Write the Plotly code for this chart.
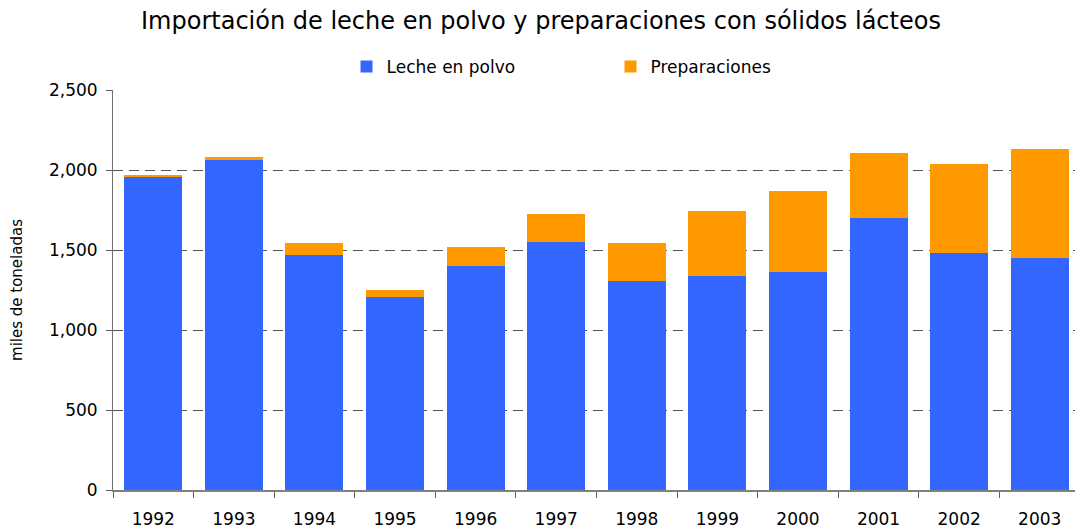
import plotly.graph_objects as go

years = ["1992", "1993", "1994", "1995", "1996", "1997", "1998", "1999", "2000", "2001", "2002", "2003"]
leche_en_polvo = [1960, 2064, 1467, 1206, 1399, 1550, 1307, 1338, 1363, 1703, 1479, 1448]
preparaciones = [6, 19, 75, 43, 118, 174, 237, 405, 504, 401, 556, 681]

FONT = "DejaVu Sans"

fig = go.Figure()
fig.add_trace(go.Bar(x=years, y=leche_en_polvo, name="Leche en polvo",
                     marker=dict(color="#3366FF", line=dict(width=0))))
fig.add_trace(go.Bar(x=years, y=preparaciones, name="Preparaciones",
                     marker=dict(color="#FF9900", line=dict(width=0))))

# page body has an 8px default margin, so the figure is sized to fit inside it
fig.update_layout(
    barmode="stack",
    bargap=0.28,
    width=1075, height=521,
    margin=dict(l=105, r=3, t=82, b=39, autoexpand=False),
    paper_bgcolor="white", plot_bgcolor="white",
    font=dict(family=FONT, size=17, color="black"),
    title=dict(text="Importación de leche en polvo y preparaciones con sólidos lácteos",
               x=0.4958, xanchor="center", y=0.975, yanchor="middle",
               font=dict(family=FONT, size=24, color="black")),
    legend=dict(orientation="h", x=0.2415, xanchor="left", y=1.0575, yanchor="middle",
                font=dict(family=FONT, size=17), entrywidth=219, entrywidthmode="pixels",
                itemwidth=30, traceorder="normal"),
    showlegend=True,
)
fig.update_xaxes(
    type="category", showline=True, linecolor="#808080", linewidth=2,
    ticks="outside", tickson="boundaries", ticklen=6, tickcolor="#606060", tickwidth=1,
    showgrid=False, tickfont=dict(family=FONT, size=17), ticklabelstandoff=13,
    automargin=False,
)
fig.update_yaxes(
    range=[0, 2500], dtick=500, tickformat=",",
    showline=True, linecolor="#707070", linewidth=1,
    ticks="outside", ticklen=6, tickcolor="#606060",
    showgrid=True, gridcolor="#555555", griddash="10px,6px", gridwidth=1,
    zeroline=False, ticklabelstandoff=5, automargin=False,
    title=dict(text="miles de toneladas", font=dict(family=FONT, size=15), standoff=22),
    tickfont=dict(family=FONT, size=17),
)

fig.write_html("out.html")
